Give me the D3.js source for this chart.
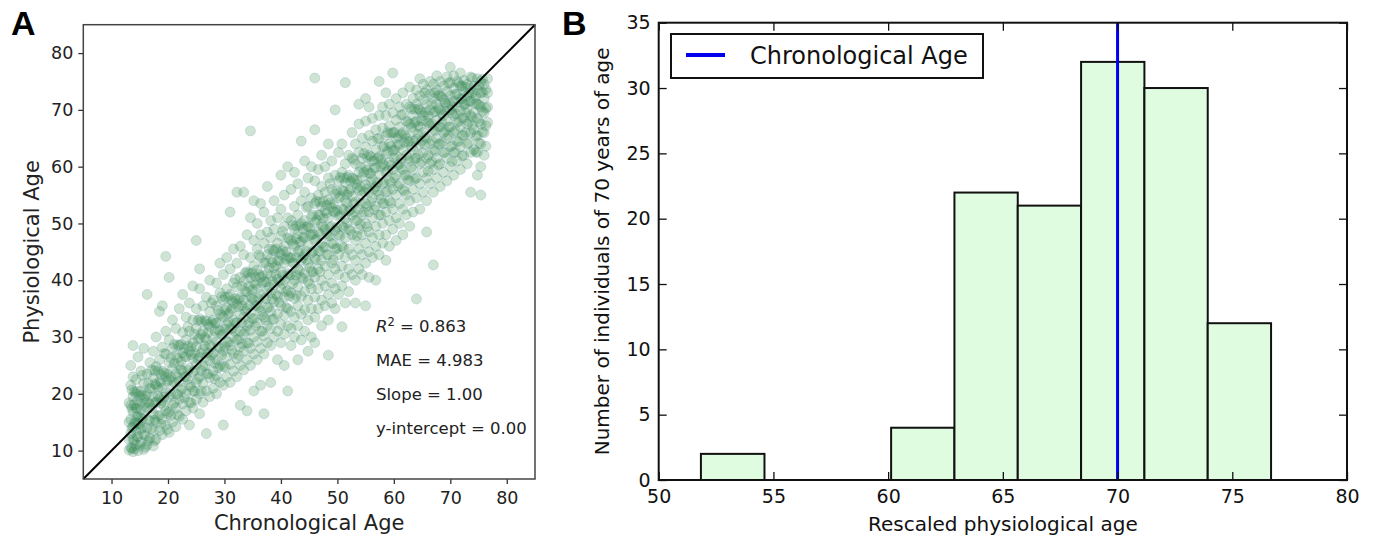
<!DOCTYPE html>
<html>
<head>
<meta charset="utf-8">
<script src="https://cdn.jsdelivr.net/npm/d3@7"></script>
<style>
body { margin: 0; background: #fff; }
svg { display: block; font-family: 'DejaVu Sans', sans-serif; }
</style>
</head>
<body>
<svg id="chart" width="1374" height="541"></svg>
<script>
'use strict';
//Panel A: scatter, one column per chronological age, with the physiological ages seen there.
const scatterCols = [
	[13.4, [10.5, 13, 15.5, 18, 21.5, 25]],
	[13.8, [9.8, 12, 14.2, 16.8, 19.5, 23, 28.5]],
	[14.3, [11, 13.5, 15, 17.5, 20, 22.5]],
	[14.7, [10, 12.5, 14.8, 16, 18.8, 26.5]],
	[15.2, [11.5, 13.8, 15.8, 17.2, 20.5, 24]],
	[15.7, [10.2, 12.8, 16.5, 19, 21.8, 28]],
	[16.3, [11, 14, 17.5, 20, 23.5, 37.5]],
	[16.8, [12.2, 15.2, 18.2, 21, 25.5]],
	[17.4, [10.8, 13.5, 16.5, 19.5, 22.8, 27.5]],
	[17.9, [12, 15, 18.5, 21.5, 24.8, 30]],
	[18.5, [13.5, 16.2, 19.2, 22.2, 26, 34.5]],
	[19.0, [12.8, 15.5, 18.8, 21, 24, 28.2, 35.5]],
	[19.6, [14.5, 17, 20.2, 23, 27, 31, 44.2]],
	[20.2, [13.2, 16.8, 19.5, 22.5, 25.5, 29.5, 40.5]],
	[20.8, [15, 18, 21.5, 24.5, 28, 33]],
	[21.4, [14.2, 17.5, 20, 23.5, 26.8, 31.5]],
	[22.0, [16, 19, 22.2, 25, 28.5, 35]],
	[22.6, [15.5, 18.2, 21, 24, 27.2, 30.8, 37.5]],
	[23.2, [17, 20, 23, 26.5, 29.5, 33.5]],
	[23.8, [14.5, 18.5, 21.5, 24.5, 27.5, 31, 36]],
	[24.4, [17.5, 20.5, 23.8, 26.2, 29, 33, 39]],
	[25.0, [19, 22, 25.2, 28.3, 31.5, 35, 47]],
	[25.6, [16.5, 20, 23, 26.5, 29.8, 33.2, 38.5, 42]],
	[26.2, [18.5, 21.8, 24.8, 27.8, 31, 35.5]],
	[26.8, [13, 20.5, 23.5, 26.5, 29.5, 32.8, 37]],
	[27.4, [19.5, 22.8, 25.8, 28.5, 31.8, 34.5, 40]],
	[28.0, [21, 24, 27.2, 30, 33, 36.5]],
	[28.6, [20, 23.2, 26, 29.2, 32.5, 35.5, 39.5]],
	[29.2, [22, 25, 28, 31, 34, 37.8, 43]],
	[29.8, [14.5, 21.5, 24.8, 27.5, 30.5, 33.5, 36.5, 41]],
	[30.4, [23, 26.5, 29.2, 32.2, 35.2, 38.5, 44]],
	[31.0, [22, 25.2, 28.5, 31.5, 34.5, 37.5, 42, 52]],
	[31.6, [24, 27, 30, 33, 36, 39.5, 45.5]],
	[32.2, [23, 26.2, 29.5, 32.5, 35.8, 38.8, 43, 55.5]],
	[32.8, [18, 25, 28.2, 31, 34, 37, 40.5, 46]],
	[33.4, [24.2, 27.5, 30.5, 33.5, 36.5, 39.8, 44.5, 55.5]],
	[34.0, [17, 26, 29, 32, 35, 38, 41.5, 48]],
	[34.6, [25, 28, 31.2, 34.2, 37.2, 40.5, 44, 51, 66.3]],
	[35.2, [20.5, 27, 30, 33.2, 36.5, 39.5, 42.5, 47, 54]],
	[35.8, [26, 29.2, 32.5, 35.5, 38.5, 41.8, 45.5, 50]],
	[36.4, [21.5, 28, 31, 34.5, 37.5, 40.5, 44, 48, 53.5]],
	[37.0, [16.5, 27, 30.2, 33.5, 36.8, 39.8, 43, 46.5, 52]],
	[37.6, [29, 32, 35.2, 38.2, 41.2, 44.5, 48.5, 56.5]],
	[38.2, [22, 28.5, 31.5, 34.5, 37.8, 40.8, 43.8, 47.5, 50.5]],
	[38.8, [30, 33.2, 36.2, 39.2, 42.2, 45.2, 49, 54]],
	[39.4, [26, 31, 34, 37.2, 40.2, 43.5, 46.5, 51]],
	[40.0, [29, 32.2, 35.5, 38.5, 41.5, 44.5, 47.8, 52.5, 58.5]],
	[40.6, [25, 30.5, 33.8, 37, 40, 43, 46, 49.5, 55]],
	[41.2, [20.5, 32, 35, 38.2, 41.2, 44.2, 47.5, 51, 60]],
	[41.8, [28.5, 31.5, 34.5, 37.8, 41, 44, 47, 50.5, 56]],
	[42.4, [30, 33.5, 36.8, 40, 43, 46, 49, 53, 59]],
	[43.0, [26, 32, 35.5, 38.8, 42, 45, 48.2, 51.5, 57]],
	[43.6, [29.5, 34, 37.2, 40.5, 43.5, 46.8, 50, 54, 64.5]],
	[44.2, [31, 34.8, 38, 41.2, 44.5, 47.5, 50.5, 55.5, 61]],
	[44.8, [27.5, 33, 36.5, 39.8, 43, 46.2, 49.5, 53, 58]],
	[45.4, [30, 35, 38.5, 41.5, 44.8, 48, 51.2, 54.5, 60]],
	[46.0, [29, 33.5, 37, 40.5, 43.8, 47, 50.2, 53.5, 57.5, 66.5, 75.6]],
	[46.6, [35, 38.5, 42, 45.2, 48.5, 51.5, 55, 59.5]],
	[47.2, [32, 36.5, 40, 43.5, 46.5, 49.8, 53, 56.5, 62]],
	[47.8, [35.5, 39, 42.5, 45.8, 49, 52.2, 55.5, 60]],
	[48.4, [26.8, 33, 37.5, 41, 44.5, 47.8, 51, 54.2, 58, 64]],
	[49.0, [36, 39.5, 43, 46.5, 49.5, 52.8, 56, 61]],
	[49.6, [35, 38.5, 42, 45.5, 48.8, 52, 55.2, 58.5, 70]],
	[50.2, [37.5, 41, 44.5, 48, 51.2, 54.5, 57.5, 62.5]],
	[50.8, [31.8, 39, 42.5, 46, 49.5, 52.5, 55.8, 59, 64]],
	[51.4, [36, 40.5, 44, 47.5, 50.8, 54, 57.2, 60.5, 74.8]],
	[52.0, [38, 42, 45.5, 49, 52.2, 55.5, 58.5, 62]],
	[52.6, [41, 44.5, 48, 51.5, 54.8, 58, 61.5, 66]],
	[53.2, [36, 40, 43.5, 47, 50.5, 53.8, 57, 60.5, 64]],
	[53.8, [42, 45.5, 49, 52.5, 55.8, 59, 62.5, 67.5, 71]],
	[54.4, [41, 44.5, 48, 51.5, 55, 58.2, 61.5, 65]],
	[55.0, [35.5, 43, 46.5, 50, 53.5, 56.8, 60, 63.5, 68, 72]],
	[55.6, [40.5, 45, 48.5, 52, 55.5, 58.8, 62, 65.5, 70.5]],
	[56.2, [44, 47.5, 51, 54.5, 57.8, 61, 64.5, 68.5]],
	[56.8, [40, 46, 49.5, 53, 56.5, 59.8, 63, 66.5]],
	[57.4, [44.5, 48, 51.5, 55, 58.5, 61.8, 65, 69, 75]],
	[58.0, [46.5, 50, 53.5, 57, 60.5, 63.5, 66.8, 70.5]],
	[58.6, [43.5, 48, 52, 55.5, 59, 62.2, 65.5, 69, 73]],
	[59.2, [46, 50.5, 54, 57.5, 60.8, 64, 67.2, 71]],
	[59.8, [49, 52.5, 56, 59.5, 62.8, 66, 69.5, 76.5]],
	[60.4, [47, 51, 55, 58.5, 62, 65, 68.2, 72]],
	[61.0, [50, 53.5, 57, 60.5, 63.8, 67, 70.5]],
	[61.6, [48, 52.5, 56, 59.5, 63, 66, 69.2, 73]],
	[62.2, [51.5, 55, 58.5, 62, 65, 68, 71]],
	[62.8, [49.5, 54, 57.5, 61, 64.5, 67.5, 70.5, 74]],
	[63.4, [52, 56, 59.5, 63, 66.2, 69, 72]],
	[64.0, [36.7, 54.5, 58, 61.5, 64.8, 68, 71, 73.5]],
	[64.6, [52.5, 57, 60.5, 64, 67, 70, 72.5, 75.5]],
	[65.2, [55.5, 59, 62.5, 66, 69, 71.8, 74.5]],
	[65.8, [48.5, 54, 58, 61.5, 65, 68, 71, 73.5]],
	[66.4, [57, 60.5, 64, 67.2, 70, 72.8, 75]],
	[67.0, [42.7, 55.5, 59.5, 63, 66.5, 69.5, 72, 74.5]],
	[67.6, [58, 61.5, 65, 68.2, 71, 73.5, 76]],
	[68.2, [56.5, 60.5, 64, 67, 70, 72.5, 75]],
	[68.8, [59, 62.5, 66, 69, 71.8, 74.2]],
	[69.4, [57.5, 61.5, 65, 68, 70.8, 73.2, 75.8]],
	[70.0, [60, 63.5, 67, 70, 72.5, 74.8, 77.5]],
	[70.6, [58.5, 62.5, 66, 69, 71.5, 73.8, 76]],
	[71.2, [61, 64.5, 67.8, 70.5, 72.8, 75]],
	[71.8, [59.5, 63.5, 67, 69.8, 72, 74.2, 76.5]],
	[72.4, [62, 65.5, 68.5, 71, 73.2, 75.2]],
	[73.0, [60.5, 64, 67.5, 70.2, 72.5, 74.5]],
	[73.6, [55.5, 62.5, 66, 69, 71.5, 73.8, 75.8]],
	[74.2, [63, 66.5, 69.5, 72, 74.2]],
	[74.8, [58.5, 62.5, 65.5, 68.5, 71, 73.5, 75.5]],
	[75.4, [55, 60, 64, 67.5, 70.5, 73, 75]],
	[76.0, [62, 66, 69.5, 72, 74.5]],
	[76.6, [67.8, 70.5, 73, 75.5]]
];
//The dense core of the cloud, read between the columns above.
const scatterCore = [
	[13.1, [10.1, 12.0, 15.0, 18.4]], [13.6, [10.4, 14.0, 17.4, 20.7]],
	[14.0, [10.3, 11.7, 14.8, 18.1, 20.4]], [14.5, [12.4, 15.9, 17.4, 20.4]],
	[15.0, [10.9, 14.6, 18.2, 19.6]], [15.45, [14.05, 15.55, 19.85, 23.25]],
	[16.0, [10.6, 12.6, 18.3, 19.6]], [16.55, [11.75, 15.45, 18.45, 21.85]],
	[17.1, [13.9, 17.5, 20.9, 24.2]], [17.65, [11.75, 15.35, 18.45, 21.75, 24.05]],
	[18.2, [16.1, 19.6, 21.1, 24.1]], [18.75, [14.65, 18.35, 21.95, 23.35]],
	[19.3, [17.9, 19.4, 23.7, 27.1]], [19.9, [13.7, 16.5, 22.2, 23.5]],
	[20.5, [16.2, 19.9, 22.9, 26.3]], [21.1, [18.4, 22.0, 25.4, 28.7]],
	[21.7, [16.3, 19.9, 23.0, 26.3, 28.6]], [22.3, [20.7, 24.2, 25.7, 28.7]],
	[22.9, [19.3, 23.0, 26.6, 28.0]], [23.5, [22.6, 24.1, 28.4, 31.8]],
	[24.1, [18.4, 21.2, 26.9, 28.2]], [24.7, [20.4, 24.1, 27.1, 30.5]],
	[25.3, [22.6, 26.2, 29.6, 32.9]], [25.9, [20.5, 24.1, 27.2, 30.5, 32.8]],
	[26.5, [24.9, 28.4, 29.9, 32.9]], [27.1, [23.5, 27.2, 30.8, 32.2]],
	[27.7, [26.8, 28.3, 32.6, 36.0]], [28.3, [22.6, 25.4, 31.1, 32.4]],
	[28.9, [24.6, 28.3, 31.3, 34.7]], [29.5, [26.8, 30.4, 33.8, 37.1]],
	[30.1, [24.7, 28.3, 31.4, 34.7, 37.0]], [30.7, [29.1, 32.6, 34.1, 37.1]],
	[31.3, [27.7, 31.4, 35.0, 36.4]], [31.9, [31.0, 32.5, 36.8, 40.2]],
	[32.5, [26.8, 29.6, 35.3, 36.6]], [33.1, [28.8, 32.5, 35.5, 38.9]],
	[33.7, [31.0, 34.6, 38.0, 41.3]], [34.3, [28.9, 32.5, 35.6, 38.9, 41.2]],
	[34.9, [33.3, 36.8, 38.3, 41.3]], [35.5, [31.9, 35.6, 39.2, 40.6]],
	[36.1, [35.2, 36.7, 41.0, 44.4]], [36.7, [31.0, 33.8, 39.5, 40.8]],
	[37.3, [33.0, 36.7, 39.7, 43.1]], [37.9, [35.2, 38.8, 42.2, 45.5]],
	[38.5, [33.1, 36.7, 39.8, 43.1, 45.4]], [39.1, [37.5, 41.0, 42.5, 45.5]],
	[39.7, [36.1, 39.8, 43.4, 44.8]], [40.3, [39.4, 40.9, 45.2, 48.6]],
	[40.9, [35.2, 38.0, 43.7, 45.0]], [41.5, [37.2, 40.9, 43.9, 47.3]],
	[42.1, [39.4, 43.0, 46.4, 49.7]], [42.7, [37.3, 40.9, 44.0, 47.3, 49.6]],
	[43.3, [41.7, 45.2, 46.7, 49.7]], [43.9, [40.3, 44.0, 47.6, 49.0]],
	[44.5, [43.6, 45.1, 49.4, 52.8]], [45.1, [39.4, 42.2, 47.9, 49.2]],
	[45.7, [41.4, 45.1, 48.1, 51.5]], [46.3, [43.6, 47.2, 50.6, 53.9]],
	[46.9, [41.5, 45.1, 48.2, 51.5, 53.8]], [47.5, [45.9, 49.4, 50.9, 53.9]],
	[48.1, [44.5, 48.2, 51.8, 53.2]], [48.7, [47.8, 49.3, 53.6, 57.0]],
	[49.3, [43.6, 46.4, 52.1, 53.4]], [49.9, [45.6, 49.3, 52.3, 55.7]],
	[50.5, [47.8, 51.4, 54.8, 58.1]], [51.1, [45.7, 49.3, 52.4, 55.7, 58.0]],
	[51.7, [50.1, 53.6, 55.1, 58.1]], [52.3, [48.7, 52.4, 56.0, 57.4]],
	[52.9, [52.0, 53.5, 57.8, 61.2]], [53.5, [47.8, 50.6, 56.3, 57.6]],
	[54.1, [49.8, 53.5, 56.5, 59.9]], [54.7, [52.0, 55.6, 59.0, 62.3]],
	[55.3, [49.4, 53.0, 56.1, 59.4, 61.7]], [55.9, [53.8, 57.3, 58.8, 61.8]],
	[56.5, [52.4, 56.1, 59.7, 61.1]], [57.1, [55.7, 57.2, 61.5, 64.9]],
	[57.7, [51.5, 54.3, 60.0, 61.3]], [58.3, [53.5, 57.2, 60.2, 63.6]],
	[58.9, [55.7, 59.3, 62.7, 66.0]], [59.5, [53.6, 57.2, 60.3, 63.6, 65.9]],
	[60.1, [58.0, 61.5, 63.0, 66.0]], [60.7, [56.6, 60.3, 63.9, 65.3]],
	[61.3, [59.9, 61.4, 65.7, 69.1]], [61.9, [55.7, 58.5, 64.2, 65.5]],
	[62.5, [57.7, 61.4, 64.4, 67.8]], [63.1, [59.9, 63.5, 66.9, 70.2]],
	[63.7, [57.8, 61.4, 64.5, 67.8, 70.1]], [64.3, [62.2, 65.7, 67.2, 70.2]],
	[64.9, [60.8, 64.5, 68.1, 69.5]], [65.5, [63.8, 65.3, 69.6, 73.0]],
	[66.1, [59.2, 62.0, 67.7, 69.0]], [66.7, [60.9, 64.6, 67.6, 71.0]],
	[67.3, [62.7, 66.3, 69.7, 73.0]], [67.9, [60.3, 63.9, 67.0, 70.3, 72.6]],
	[68.5, [64.3, 67.8, 69.3, 72.3]], [69.1, [62.5, 66.2, 69.8, 71.2]],
	[69.7, [65.5, 67.0, 71.3, 74.7]], [70.3, [60.9, 63.7, 69.4, 70.7]],
	[70.9, [62.6, 66.3, 69.3, 72.7]], [71.5, [64.4, 68.0, 71.4, 74.7]],
	[72.1, [61.9, 65.5, 68.6, 71.9, 74.2]], [72.7, [66.0, 69.5, 71.0, 74.0]],
	[73.3, [64.2, 67.9, 71.5, 72.9]], [73.9, [67.2, 68.7, 73.0, 75.6]],
	[74.5, [62.6, 65.4, 71.1, 72.4]], [75.1, [64.2, 67.9, 70.9, 74.3]],
	[75.7, [66.1, 69.7, 73.1, 75.4]], [76.3, [63.6, 67.2, 70.3, 73.6]]
];
const ticksA = [10, 20, 30, 40, 50, 60, 70, 80];
const statsA = ['MAE = 4.983', 'Slope = 1.00', 'y-intercept = 0.00'];
const r2Text = '= 0.863';

//Panel B: histogram.
const binEdges = [51.84, 54.61, 57.37, 60.13, 62.89, 65.65, 68.41, 71.17, 73.93, 76.69];
const binCounts = [2, 0, 0, 4, 22, 21, 32, 30, 12];
const chronoAge = 70;
const ticksBx = [50, 55, 60, 65, 70, 75, 80];
const ticksBy = [0, 5, 10, 15, 20, 25, 30, 35];

const svg = d3.select('#chart');

//---------- Panel A ----------
const xA = d3.scaleLinear().domain([5, 85]).range([83.3, 535]);
const yA = d3.scaleLinear().domain([5, 85]).range([479, 24.7]);
const gA = svg.append('g');

const pts = [];
scatterCols.concat(scatterCore).forEach(c => c[1].forEach(y => pts.push([c[0], y])));
gA.append('g').selectAll('circle')
	.data(pts)
	.join('circle')
	.attr('cx', d => xA(d[0]))
	.attr('cy', d => yA(d[1]))
	.attr('r', 5)
	.style('fill', '#2a843a')
	.style('fill-opacity', 0.22)
	.style('stroke', '#5a95a5')
	.style('stroke-opacity', 0.24)
	.style('stroke-width', 1);

gA.append('line')
	.attr('x1', xA(5)).attr('y1', yA(5))
	.attr('x2', xA(85)).attr('y2', yA(85))
	.style('stroke', '#000')
	.style('stroke-width', 2);

const axA = gA.append('g')
	.attr('transform', `translate(0,${yA(5)})`)
	.call(d3.axisBottom(xA).tickValues(ticksA).tickSize(5).tickPadding(8));
const ayA = gA.append('g')
	.attr('transform', `translate(${xA(5)},0)`)
	.call(d3.axisLeft(yA).tickValues(ticksA).tickSize(5).tickPadding(5));
[axA, ayA].forEach(a => {
	a.select('.domain').remove();
	a.selectAll('line').style('stroke', '#333').style('stroke-width', 1.3);
	a.selectAll('text').style('font-size', '17.5px').style('fill', '#222')
		.style('font-family', "'DejaVu Sans', sans-serif");
});

gA.append('rect')
	.attr('x', xA(5)).attr('y', yA(85))
	.attr('width', xA(85) - xA(5)).attr('height', yA(5) - yA(85))
	.style('fill', 'none').style('stroke', '#444').style('stroke-width', 1.5);

gA.append('text')
	.attr('x', (xA(5) + xA(85)) / 2).attr('y', 530)
	.attr('text-anchor', 'middle')
	.style('font-size', '21px').style('fill', '#222')
	.text('Chronological Age');
gA.append('text')
	.attr('transform', `translate(39,${(yA(5) + yA(85)) / 2}) rotate(-90)`)
	.attr('text-anchor', 'middle')
	.style('font-size', '21px').style('fill', '#222')
	.text('Physiological Age');

//Fit statistics.
const r2 = gA.append('text')
	.attr('x', 376).attr('y', 332)
	.style('font-size', '16.5px').style('fill', '#222');
r2.append('tspan').style('font-style', 'italic').text('R');
r2.append('tspan').attr('dy', -6).style('font-size', '11.5px').text('2');
r2.append('tspan').attr('dy', 6).text(' ' + r2Text);
gA.selectAll('text.stat')
	.data(statsA)
	.join('text')
	.attr('class', 'stat')
	.attr('x', 376)
	.attr('y', (d, i) => 366 + i * 34)
	.style('font-size', '16.5px').style('fill', '#222')
	.text(d => d);

svg.append('text')
	.attr('x', 11).attr('y', 35)
	.style('font-family', "'Liberation Sans', Arial, sans-serif")
	.style('font-weight', 'bold').style('font-size', '34px')
	.text('A');

//---------- Panel B ----------
const xB = d3.scaleLinear().domain([50, 80]).range([658.7, 1347]);
const yB = d3.scaleLinear().domain([0, 35]).range([480, 22.7]);
const gB = svg.append('g');

const bins = binCounts.map((c, i) => ({x0: binEdges[i], x1: binEdges[i + 1], n: c}));
gB.append('g').selectAll('rect')
	.data(bins.filter(b => b.n > 0))
	.join('rect')
	.attr('x', d => xB(d.x0))
	.attr('y', d => yB(d.n))
	.attr('width', d => xB(d.x1) - xB(d.x0))
	.attr('height', d => yB(0) - yB(d.n))
	.style('fill', '#e0fce0')
	.style('stroke', '#111')
	.style('stroke-width', 2);

gB.append('line')
	.attr('x1', xB(chronoAge)).attr('x2', xB(chronoAge))
	.attr('y1', yB(0)).attr('y2', yB(35))
	.style('stroke', '#0000ee')
	.style('stroke-width', 3);

const axB = gB.append('g')
	.attr('transform', `translate(0,${yB(0)})`)
	.call(d3.axisBottom(xB).tickValues(ticksBx).tickSize(-8).tickPadding(10));
const ayB = gB.append('g')
	.attr('transform', `translate(${xB(50)},0)`)
	.call(d3.axisLeft(yB).tickValues(ticksBy).tickSize(-8).tickPadding(8));
const atB = gB.append('g')
	.attr('transform', `translate(0,${yB(35)})`)
	.call(d3.axisTop(xB).tickValues(ticksBx).tickSize(-8).tickFormat(''));
const arB = gB.append('g')
	.attr('transform', `translate(${xB(80)},0)`)
	.call(d3.axisRight(yB).tickValues(ticksBy).tickSize(-8).tickFormat(''));
[axB, ayB, atB, arB].forEach(a => {
	a.select('.domain').remove();
	a.selectAll('line').style('stroke', '#111').style('stroke-width', 1.3);
	a.selectAll('text').style('font-size', '19px').style('fill', '#111')
		.style('font-family', "'DejaVu Sans', sans-serif");
});

gB.append('rect')
	.attr('x', xB(50)).attr('y', yB(35))
	.attr('width', xB(80) - xB(50)).attr('height', yB(0) - yB(35))
	.style('fill', 'none').style('stroke', '#111').style('stroke-width', 2);

gB.append('text')
	.attr('x', (xB(50) + xB(80)) / 2).attr('y', 531)
	.attr('text-anchor', 'middle')
	.style('font-size', '20px').style('fill', '#111')
	.text('Rescaled physiological age');
gB.append('text')
	.attr('transform', `translate(609,${(yB(0) + yB(35)) / 2}) rotate(-90)`)
	.attr('text-anchor', 'middle')
	.style('font-size', '20px').style('fill', '#111')
	.text('Number of individuals of 70 years of age');

//Legend.
const leg = gB.append('g');
leg.append('rect')
	.attr('x', 671).attr('y', 34).attr('width', 312).attr('height', 44)
	.style('fill', '#fff').style('stroke', '#111').style('stroke-width', 2);
leg.append('line')
	.attr('x1', 686).attr('x2', 725).attr('y1', 55).attr('y2', 55)
	.style('stroke', '#0000ee').style('stroke-width', 4);
leg.append('text')
	.attr('x', 750).attr('y', 63.5)
	.style('font-size', '24px').style('fill', '#111')
	.text('Chronological Age');

svg.append('text')
	.attr('x', 562).attr('y', 35)
	.style('font-family', "'Liberation Sans', Arial, sans-serif")
	.style('font-weight', 'bold').style('font-size', '34px')
	.text('B');
</script>
</body>
</html>
